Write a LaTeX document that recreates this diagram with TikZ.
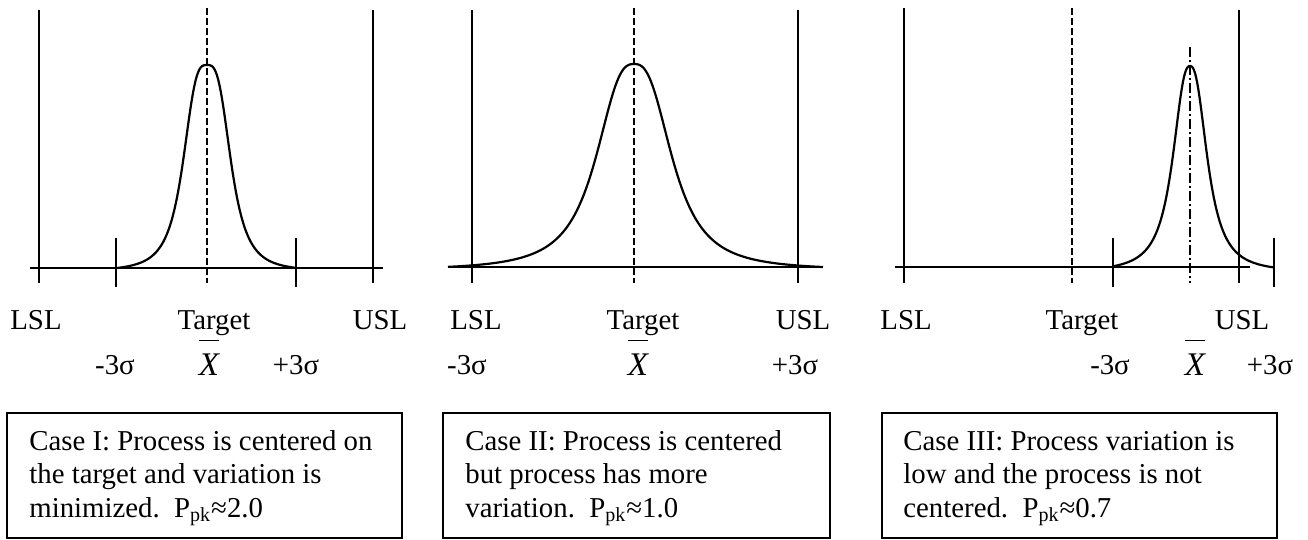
\documentclass[tikz,border=0pt]{standalone}
\usepackage{fontspec}
\setmainfont{Liberation Serif}
\newcommand{\meanbar}{$\overline{\mbox{\fontsize{16.5}{18}\selectfont\itshape X\rule{0pt}{0.95em}}}$}
\begin{document}
\begin{tikzpicture}[x=0.5pt,y=-0.5pt,
  axisline/.style={line width=1pt},
  speclimit/.style={line width=1pt},
  sigmatick/.style={line width=1pt},
  targetline/.style={line width=1pt, dash pattern=on 3.5pt off 1.5pt},
  meanline/.style={line width=0.9pt, dash pattern=on 5pt off 1.5pt on 1pt off 1.5pt},
  distcurve/.style={line width=1.1pt, line join=round},
  lbl/.style={anchor=base, inner sep=0pt, font=\fontsize{14.4}{16.5}\selectfont},
  noteline/.style={anchor=base west, inner sep=0pt, font=\fontsize{14.4}{16.5}\selectfont},
  notebox/.style={line width=0.8pt}
]
\useasboundingbox (0,0) rectangle (1308,540);

% ---------------- Case I ----------------
\draw[axisline] (30,268) -- (383,268);
\draw[speclimit] (39,10) -- (39,283);
\draw[speclimit] (373,10) -- (373,283);
\draw[sigmatick] (116,238) -- (116,287);
\draw[sigmatick] (296,238) -- (296,287);
\draw[targetline] (207,8) -- (207,283);
\draw[distcurve] plot[domain=-90:90, samples=181]
  ({207+\x},{268-203*(1/(1+pow(abs(\x)/25,3.2))-0.0163)/0.9837});
\node[lbl] (lslA) at (36,329) {LSL};
\node[lbl] (tgtA) at (214,329) {Target};
\node[lbl] (uslA) at (380,329) {USL};
\node[lbl] (msA) at (115,374) {-3σ};
\node[lbl] (xbA) at (209,375) {\meanbar};
\node[lbl] (psA) at (296,374) {+3σ};
\draw[notebox] (7,413) rectangle (402,538);
\node[noteline] (a1) at (29,450) {Case I: Process is centered on};
\node[noteline] (a2) at (29,483) {the target and variation is};
\node[noteline] (a3) at (29,517) {minimized.\ \ P\textsubscript{pk}≈2.0};

% ---------------- Case II ----------------
\draw[axisline] (448,267) -- (823,267);
\draw[speclimit] (472,10) -- (472,283);
\draw[speclimit] (798,10) -- (798,283);
\draw[targetline] (634,8) -- (634,283);
\draw[distcurve] plot[domain=-186:189, samples=241]
  ({634+\x},{267-203*(1/(1+pow(abs(\x)/41,2.7))-0.016)/0.984});
\node[lbl] (lslB) at (476,329) {LSL};
\node[lbl] (tgtB) at (643,329) {Target};
\node[lbl] (uslB) at (803,329) {USL};
\node[lbl] (msB) at (467,374) {-3σ};
\node[lbl] (xbB) at (638,375) {\meanbar};
\node[lbl] (psB) at (795,374) {+3σ};
\draw[notebox] (443,413) rectangle (830,538);
\node[noteline] (b1) at (465,450) {Case II: Process is centered};
\node[noteline] (b2) at (465,483) {but process has more};
\node[noteline] (b3) at (465,517) {variation.\ \ P\textsubscript{pk}≈1.0};

% ---------------- Case III ----------------
\draw[axisline] (895,267) -- (1250,267);
\draw[speclimit] (904,8) -- (904,283);
\draw[speclimit] (1239,10) -- (1239,283);
\draw[targetline] (1072,8) -- (1072,283);
\draw[sigmatick] (1113,238) -- (1113,287);
\draw[sigmatick] (1274,238) -- (1274,287);
\draw[meanline] (1190,47) -- (1190,283);
\draw[distcurve] plot[domain=-77:84, samples=181]
  ({1190+\x},{267-201*(1/(1+pow(abs(\x)/19,2.5))-0.026)/0.974});
\node[lbl] (lslC) at (906,329) {LSL};
\node[lbl] (tgtC) at (1082,329) {Target};
\node[lbl] (uslC) at (1242,329) {USL};
\node[lbl] (msC) at (1110,374) {-3σ};
\node[lbl] (xbC) at (1195,375) {\meanbar};
\node[lbl] (psC) at (1270,374) {+3σ};
\draw[notebox] (882,413) rectangle (1277,538);
\node[noteline] (c1) at (903,450) {Case III: Process variation is};
\node[noteline] (c2) at (903,483) {low and the process is not};
\node[noteline] (c3) at (903,517) {centered.\ \ P\textsubscript{pk}≈0.7};
\end{tikzpicture}
\end{document}
